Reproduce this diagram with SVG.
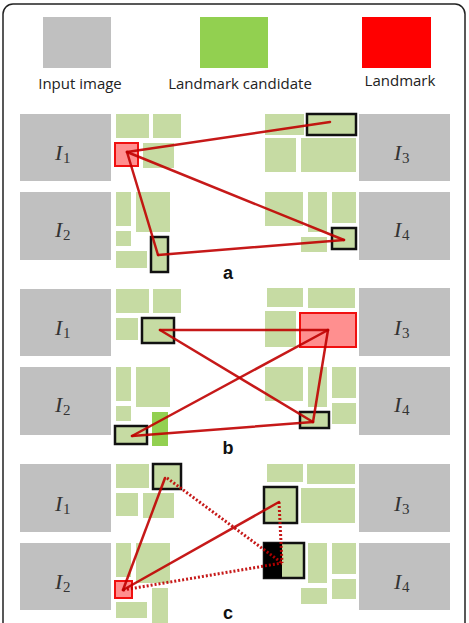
<svg xmlns="http://www.w3.org/2000/svg" width="469" height="623" viewBox="0 0 469 623">
<style>
.img{fill:#c0c0c0}
.cand{fill:#c6dba3}
.bright{fill:#92d050}
.box{fill:#c6dba3;stroke:#111;stroke-width:2.5}
.lm{fill:#ff8f8f;stroke:#f01010;stroke-width:2}
.lbl{font-family:"Liberation Serif",serif;font-style:italic;font-size:22px;fill:#333}
.sub{font-family:"Liberation Serif",serif;font-size:15px;fill:#333}
.leg{font-family:"Open Sans","Liberation Sans",sans-serif;font-size:15px;fill:#222}
.pl{font-family:"Liberation Sans",Arial,sans-serif;font-weight:bold;font-size:18px;fill:#111}
.ln{stroke:#c00000;stroke-width:2.5;fill:none;stroke-opacity:0.9;stroke-linecap:round}
.dt{stroke:#c00000;stroke-width:3;fill:none;stroke-dasharray:2 2;stroke-opacity:0.9}
</style>
<rect x="0" y="0" width="469" height="623" fill="#fff"/>
<rect x="3" y="4" width="462" height="640" rx="10" ry="10" fill="#fff" stroke="#222" stroke-width="1.5"/>

<g id="legend">
<rect x="43" y="17" width="68" height="51" fill="#c0c0c0"/>
<rect x="200" y="17" width="68" height="51" fill="#92d050"/>
<rect x="362" y="17" width="69" height="51" fill="#ff0000"/>
<text class="leg" x="80" y="89" text-anchor="middle">Input image</text>
<text class="leg" x="240" y="89" text-anchor="middle">Landmark candidate</text>
<text class="leg" x="400" y="86" text-anchor="middle">Landmark</text>
</g>

<!-- Panel a -->
<g id="a-I1"><rect class="img" x="20" y="114" width="91" height="67"/><text class="lbl" x="55" y="160">I</text><text class="sub" x="63" y="163">1</text></g>
<g id="a-I2"><rect class="img" x="20" y="192" width="91" height="68"/><text class="lbl" x="55" y="237">I</text><text class="sub" x="63" y="240">2</text></g>
<g id="a-I3"><rect class="img" x="359" y="114" width="91" height="67"/><text class="lbl" x="394" y="160">I</text><text class="sub" x="402" y="163">3</text></g>
<g id="a-I4"><rect class="img" x="359" y="192" width="91" height="68"/><text class="lbl" x="394" y="237">I</text><text class="sub" x="402" y="240">4</text></g>
<g id="a-tiles">
<rect class="cand" x="116" y="114" width="33" height="24"/>
<rect class="cand" x="153" y="114" width="28" height="24"/>
<rect class="cand" x="143" y="143" width="31" height="25"/>
<rect class="cand" x="116" y="192" width="15" height="34"/>
<rect class="cand" x="136" y="192" width="34" height="40"/>
<rect class="cand" x="116" y="231" width="15" height="15"/>
<rect class="cand" x="116" y="251" width="31" height="17"/>
<rect class="cand" x="265" y="114" width="39" height="21"/>
<rect class="cand" x="265" y="138" width="31" height="34"/>
<rect class="cand" x="301" y="138" width="55" height="34"/>
<rect class="cand" x="265" y="192" width="38" height="34"/>
<rect class="cand" x="308" y="192" width="19" height="40"/>
<rect class="cand" x="332" y="192" width="24" height="31"/>
<rect class="cand" x="301" y="237" width="26" height="15"/>
</g>
<g id="a-landmark"><rect class="lm" x="115" y="143" width="23" height="23"/></g>
<g id="a-sel1"><rect class="box" x="151" y="237" width="17" height="35"/></g>
<g id="a-sel3"><rect class="box" x="307" y="114" width="49" height="21"/></g>
<g id="a-sel4"><rect class="box" x="332" y="228" width="24" height="21"/></g>
<text class="pl" x="228" y="279" text-anchor="middle">a</text>

<!-- Panel b -->
<g id="b-I1"><rect class="img" x="20" y="289" width="91" height="67"/><text class="lbl" x="55" y="335">I</text><text class="sub" x="63" y="338">1</text></g>
<g id="b-I2"><rect class="img" x="20" y="367" width="91" height="68"/><text class="lbl" x="55" y="412">I</text><text class="sub" x="63" y="415">2</text></g>
<g id="b-I3"><rect class="img" x="359" y="288" width="91" height="68"/><text class="lbl" x="394" y="335">I</text><text class="sub" x="402" y="338">3</text></g>
<g id="b-I4"><rect class="img" x="359" y="367" width="91" height="68"/><text class="lbl" x="394" y="412">I</text><text class="sub" x="402" y="415">4</text></g>
<g id="b-tiles">
<rect class="cand" x="116" y="289" width="33" height="24"/>
<rect class="cand" x="153" y="289" width="28" height="24"/>
<rect class="cand" x="116" y="318" width="22" height="22"/>
<rect class="cand" x="116" y="367" width="15" height="34"/>
<rect class="cand" x="136" y="367" width="34" height="40"/>
<rect class="cand" x="116" y="406" width="15" height="15"/>
<rect class="bright" x="152" y="412" width="16" height="34"/>
<rect class="cand" x="267" y="288" width="36" height="19"/>
<rect class="cand" x="308" y="288" width="47" height="20"/>
<rect class="cand" x="265" y="311" width="31" height="36"/>
<rect class="cand" x="265" y="367" width="38" height="34"/>
<rect class="cand" x="308" y="367" width="19" height="40"/>
<rect class="cand" x="332" y="367" width="24" height="31"/>
<rect class="cand" x="332" y="403" width="24" height="21"/>
</g>
<g id="b-landmark"><rect class="lm" x="300" y="313" width="56" height="34"/></g>
<g id="b-sel1"><rect class="box" x="142" y="318" width="32" height="25"/></g>
<g id="b-sel2"><rect class="box" x="115" y="426" width="32" height="18"/></g>
<g id="b-sel4"><rect class="box" x="300" y="412" width="29" height="16"/></g>
<text class="pl" x="228" y="454" text-anchor="middle">b</text>

<!-- Panel c -->
<g id="c-I1"><rect class="img" x="20" y="464" width="91" height="68"/><text class="lbl" x="55" y="511">I</text><text class="sub" x="63" y="514">1</text></g>
<g id="c-I2"><rect class="img" x="20" y="543" width="91" height="67"/><text class="lbl" x="55" y="589">I</text><text class="sub" x="63" y="592">2</text></g>
<g id="c-I3"><rect class="img" x="359" y="464" width="91" height="68"/><text class="lbl" x="394" y="511">I</text><text class="sub" x="402" y="514">3</text></g>
<g id="c-I4"><rect class="img" x="359" y="543" width="91" height="67"/><text class="lbl" x="394" y="589">I</text><text class="sub" x="402" y="592">4</text></g>
<g id="c-tiles">
<rect class="cand" x="116" y="464" width="33" height="24"/>
<rect class="cand" x="116" y="493" width="22" height="23"/>
<rect class="cand" x="143" y="493" width="31" height="25"/>
<rect class="cand" x="116" y="543" width="15" height="34"/>
<rect class="cand" x="136" y="543" width="34" height="40"/>
<rect class="cand" x="152" y="588" width="16" height="40"/>
<rect class="cand" x="116" y="602" width="31" height="16"/>
<rect class="cand" x="267" y="464" width="36" height="18"/>
<rect class="cand" x="307" y="464" width="48" height="20"/>
<rect class="cand" x="301" y="488" width="54" height="35"/>
<rect class="cand" x="308" y="543" width="19" height="40"/>
<rect class="cand" x="332" y="543" width="24" height="31"/>
<rect class="cand" x="332" y="579" width="24" height="20"/>
<rect class="cand" x="301" y="588" width="26" height="16"/>
</g>
<g id="c-landmark"><rect class="lm" x="115" y="581" width="17" height="17"/></g>
<g id="c-sel1"><rect class="box" x="153" y="464" width="28" height="25"/></g>
<g id="c-sel3"><rect class="box" x="264" y="487" width="33" height="36"/></g>
<g id="c-sel4"><rect class="box" x="264" y="543" width="40" height="35"/><rect x="264" y="543" width="18" height="35" fill="#000"/></g>
<text class="pl" x="228" y="619" text-anchor="middle">c</text>

<g id="connectors">
<line class="ln" x1="127" y1="152" x2="330" y2="122"/>
<line class="ln" x1="127" y1="152" x2="344" y2="240"/>
<line class="ln" x1="127" y1="152" x2="158" y2="255"/>
<line class="ln" x1="158" y1="255" x2="344" y2="240"/>

<line class="ln" x1="160" y1="330" x2="328" y2="330"/>
<line class="ln" x1="160" y1="330" x2="313" y2="422"/>
<line class="ln" x1="132" y1="436" x2="328" y2="330"/>
<line class="ln" x1="132" y1="436" x2="313" y2="422"/>
<line class="ln" x1="328" y1="330" x2="313" y2="422"/>

<line class="ln" x1="123" y1="590" x2="165" y2="478"/>
<line class="ln" x1="123" y1="590" x2="279" y2="502"/>
<line class="dt" x1="167" y1="478" x2="282" y2="563"/>
<line class="dt" x1="123" y1="590" x2="282" y2="563"/>
<line class="dt" x1="279" y1="502" x2="282" y2="563"/>
</g>
</svg>
